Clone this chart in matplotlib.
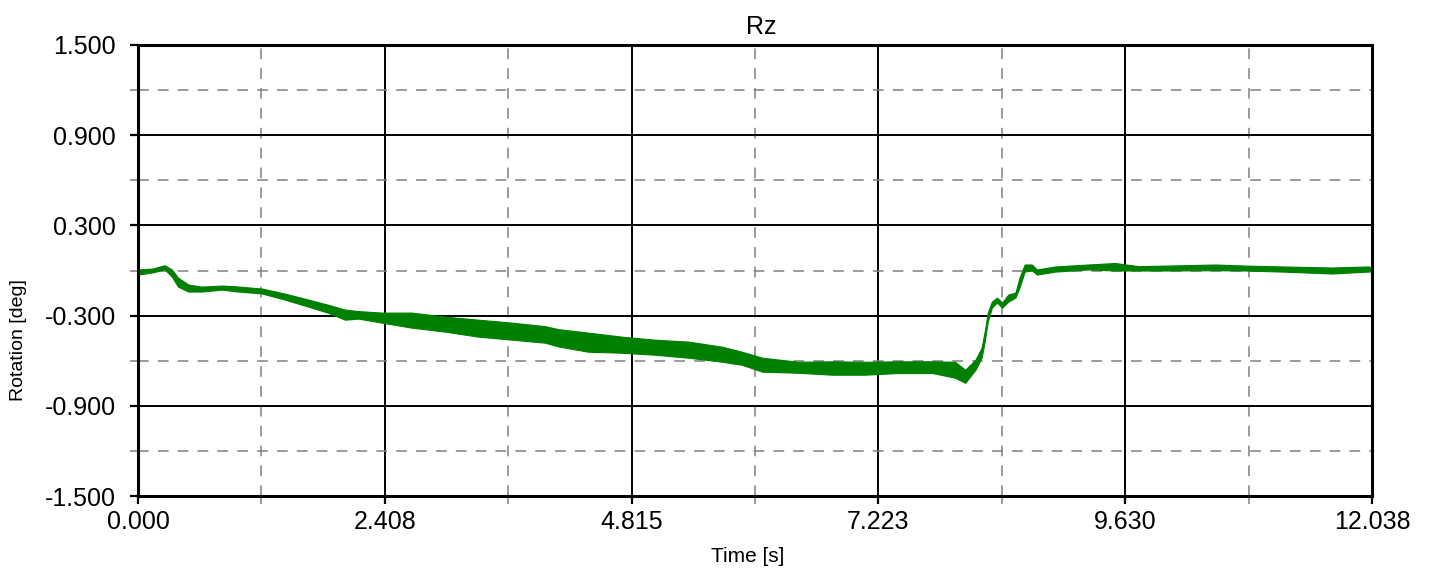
import numpy as np
import matplotlib
matplotlib.use("Agg")
import matplotlib.pyplot as plt
from matplotlib.ticker import FixedLocator, FormatStrFormatter

plt.rcParams['font.family'] = ['Liberation Sans', 'DejaVu Sans']

# Rz rotation trace, stored as the lower / upper edge of the recorded band
time_s = [0.00, 0.14, 0.26, 0.33, 0.39, 0.49, 0.62, 0.82, 0.95, 1.21,
          1.43, 1.66, 1.85, 2.02, 2.15, 2.38, 2.67, 3.00, 3.32, 3.65,
          3.97, 4.10, 4.39, 4.72, 5.04, 5.37, 5.70, 5.89, 6.09, 6.44,
          6.77, 7.09, 7.41, 7.75, 7.97, 8.07, 8.17, 8.23, 8.26, 8.29,
          8.33, 8.38, 8.43, 8.49, 8.56, 8.60, 8.65, 8.72, 8.77, 8.95,
          9.27, 9.53, 9.76, 10.05, 10.51, 10.80, 11.16, 11.65, 12.00, 12.038]
rz_low = [-0.027, -0.013, 0.007, -0.040, -0.107, -0.140, -0.140, -0.127, -0.138, -0.153,
          -0.193, -0.240, -0.280, -0.327, -0.320, -0.347, -0.380, -0.407, -0.440, -0.460,
          -0.480, -0.505, -0.540, -0.547, -0.560, -0.580, -0.607, -0.627, -0.673, -0.680,
          -0.693, -0.693, -0.682, -0.682, -0.713, -0.747, -0.660, -0.580, -0.473, -0.340,
          -0.247, -0.213, -0.247, -0.207, -0.180, -0.113, -0.007, 0.000, -0.027, -0.007,
          0.007, 0.000, 0.000, 0.000, 0.002, 0.000, -0.007, -0.020, -0.007, -0.007]
rz_high = [0.007, 0.013, 0.035, 0.007, -0.047, -0.093, -0.107, -0.100, -0.105, -0.120,
           -0.153, -0.193, -0.227, -0.260, -0.270, -0.280, -0.280, -0.307, -0.327, -0.347,
           -0.370, -0.390, -0.413, -0.440, -0.460, -0.473, -0.507, -0.540, -0.580, -0.607,
           -0.604, -0.607, -0.604, -0.604, -0.607, -0.660, -0.593, -0.513, -0.407, -0.280,
           -0.207, -0.180, -0.213, -0.160, -0.147, -0.047, 0.040, 0.040, 0.007, 0.027,
           0.040, 0.050, 0.029, 0.033, 0.040, 0.033, 0.027, 0.020, 0.027, 0.020]

x_major = [0.0, 2.408, 4.815, 7.223, 9.630, 12.038]
y_major = [-1.5, -0.9, -0.3, 0.3, 0.9, 1.5]

t = np.array(time_s)
lo = np.array(rz_low)
hi = np.array(rz_high)

fig = plt.figure(figsize=(14.30, 5.71), dpi=100)
ax = fig.add_axes([0.0965, 0.1313, 0.8629, 0.7899])

green = '#008000'
ax.fill_between(t, lo, hi, color=green, linewidth=0.8, edgecolor=green, zorder=3)

ax.set_xlim(0, 12.038)
ax.set_ylim(-1.5, 1.5)

x_minor = [(a + b) / 2 for a, b in zip(x_major[:-1], x_major[1:])]
y_minor = [(a + b) / 2 for a, b in zip(y_major[:-1], y_major[1:])]
ax.xaxis.set_major_locator(FixedLocator(x_major))
ax.xaxis.set_minor_locator(FixedLocator(x_minor))
ax.yaxis.set_major_locator(FixedLocator(y_major))
ax.yaxis.set_minor_locator(FixedLocator(y_minor))
ax.xaxis.set_major_formatter(FormatStrFormatter('%.3f'))
ax.yaxis.set_major_formatter(FormatStrFormatter('%.3f'))

ax.grid(which='major', color='black', linewidth=1.4, linestyle='-', zorder=1)
ax.grid(which='minor', color='#808080', linewidth=1.1, linestyle=(0, (7, 6)), zorder=1)
ax.set_axisbelow(True)

ax.tick_params(which='major', direction='out', length=6, width=1.6, color='black',
               labelsize=18)
ax.tick_params(axis='y', which='major', pad=10)
ax.tick_params(axis='x', which='major', pad=4)
ax.tick_params(which='minor', direction='out', length=6, width=1.1, color='#808080')

for s in ax.spines.values():
    s.set_linewidth(2.2)
    s.set_color('black')
    s.set_zorder(4)

ax.text(0.505, 1.04, 'Rz', transform=ax.transAxes, fontsize=18,
        ha='center', va='center')
ax.set_xlabel('Time [s]', fontsize=15, va='center')
ax.xaxis.set_label_coords(0.494, -0.135)
ax.set_ylabel('Rotation [deg]', fontsize=14, va='center')
ax.yaxis.set_label_coords(-0.097, 0.346)

fig.savefig('out.png', dpi=100, facecolor='white')
